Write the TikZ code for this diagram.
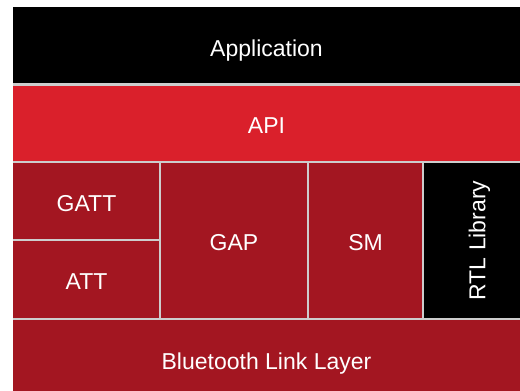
\documentclass[tikz,border=0pt]{standalone}
\usepackage{fontspec}
\setmainfont{Liberation Sans}
\usepackage{tikz}
\definecolor{apired}{HTML}{DA202B}
\definecolor{stackred}{HTML}{A31621}
\definecolor{sepgray}{HTML}{CDCDCD}
\tikzset{
    layer/.style={rectangle, inner sep=0pt, text=white,
        font=\fontsize{23}{27}\selectfont, text height=20.5pt, text depth=0pt},
    sep/.style={draw=sepgray, line width=2.5pt}
}

\begin{document}
\begin{tikzpicture}[x=1pt, y=-1pt]
    \useasboundingbox (0, 0) rectangle (520, 391);

    \node[layer, fill=black, minimum width=507pt, minimum height=77.5pt] (app) at (266.5, 45.75) {Application};
    \node[layer, fill=apired, minimum width=507pt, minimum height=77.5pt] (api) at (266.5, 123.25) {API};
    \node[layer, fill=stackred, minimum width=147pt, minimum height=78pt] (gatt) at (86.5, 201) {GATT};
    \node[layer, fill=stackred, minimum width=147pt, minimum height=79pt] (att) at (86.5, 279.5) {ATT};
    \node[layer, fill=stackred, minimum width=148pt, minimum height=157pt] (gap) at (234, 240.5) {GAP};
    \node[layer, fill=stackred, minimum width=115pt, minimum height=157pt] (sm) at (365.5, 240.5) {SM};
    \node[layer, fill=black, minimum width=97pt, minimum height=157pt] (rtl) at (471.5, 240.5) {};
    \node[layer, rotate=90] (rtltext) at ([xshift=3.5pt]rtl.center) {RTL Library};
    \node[layer, fill=stackred, minimum width=507pt, minimum height=80pt] (ble) at (266.5, 359) {Bluetooth Link Layer};

    \draw[sep]
    (app.south west) -- (app.south east)
    (api.south west) -- (api.south east)
    (gatt.south west) -- (gatt.south east)
    (gatt.north east) -- (att.south east)
    (gap.north east) -- (gap.south east)
    (sm.north east) -- (sm.south east)
    (ble.north west) -- (ble.north east);
\end{tikzpicture}
\end{document}
